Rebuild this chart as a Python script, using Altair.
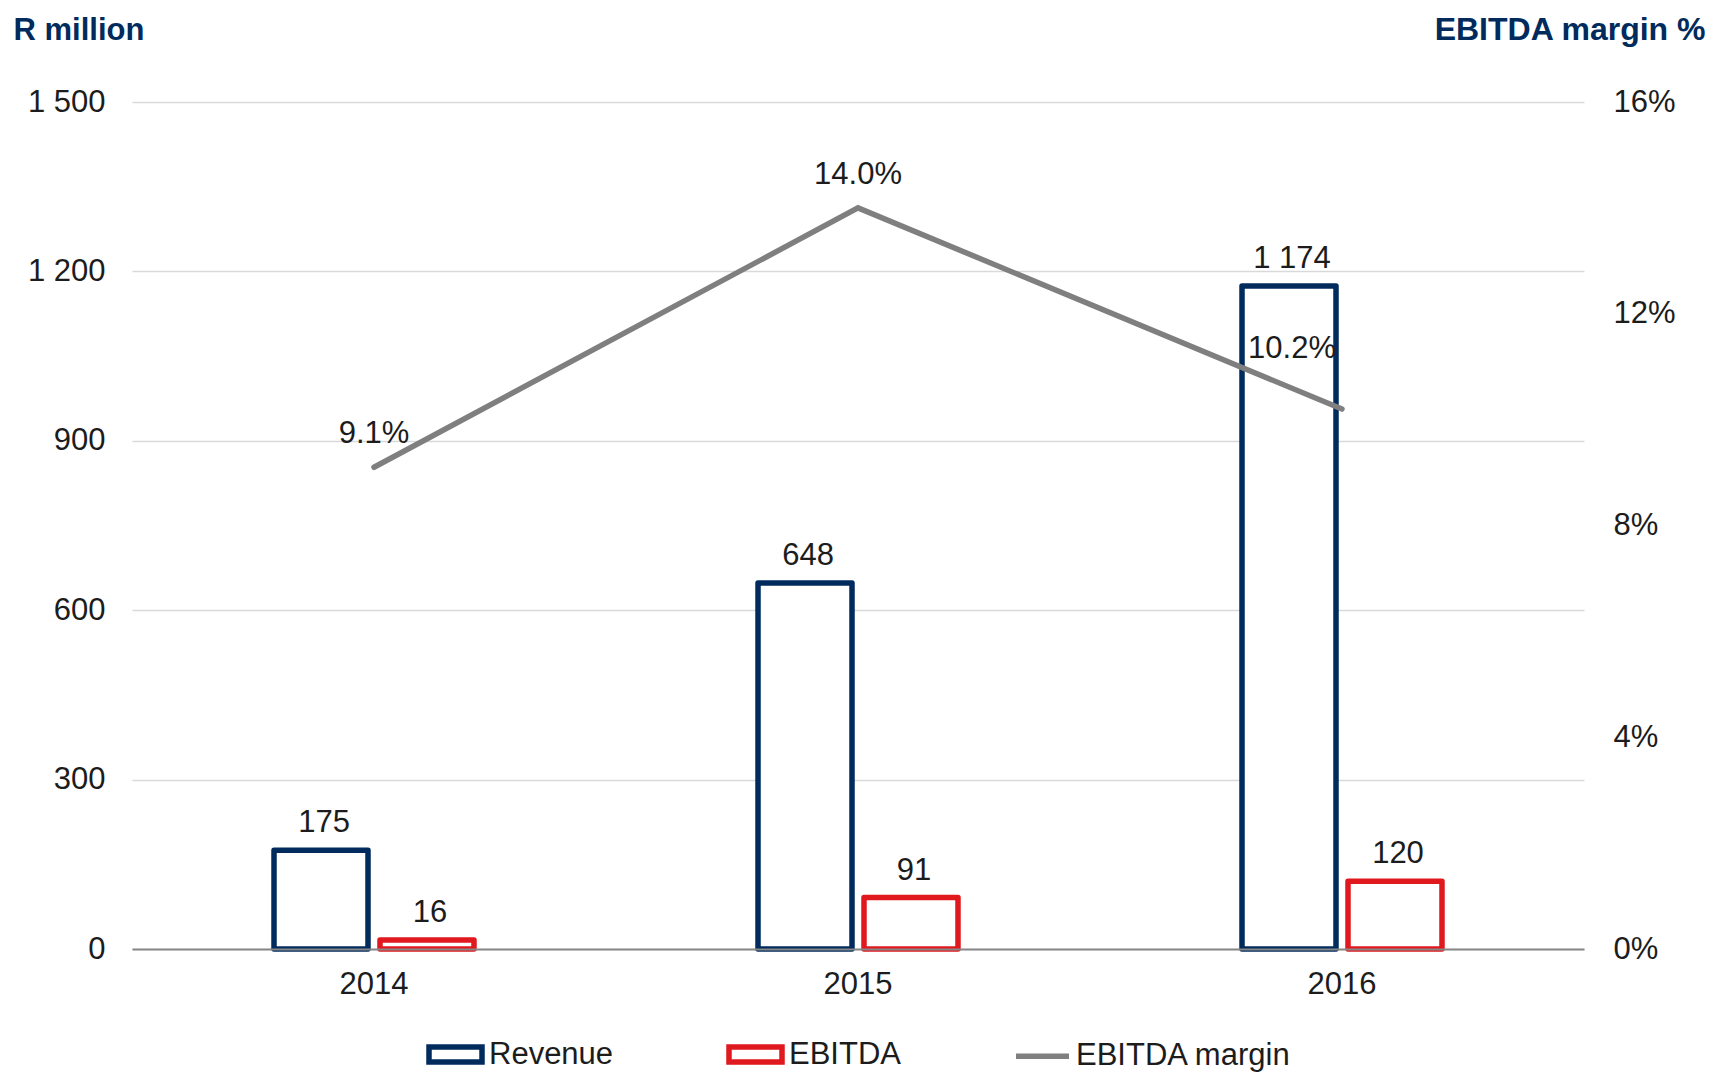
import altair as alt
import pandas as pd

# ---- data ----
years = ["2014", "2015", "2016"]
revenue = [175, 648, 1174]
ebitda = [16, 91, 120]
margin = [9.1, 14.0, 10.2]

series_names = ["Revenue", "EBITDA", "EBITDA margin"]
bar_series = ["Revenue", "EBITDA"]
series_colors = ["#002B5C", "#E0191E", "#7F7F7F"]
left_ticks = [0, 300, 600, 900, 1200, 1500]
right_ticks = [0, 4, 8, 12, 16]

# legend symbol shapes (unit-square SVG paths)
rect_path = "M-1,-0.283H1V0.283H-1Z"
line_path = "M-1,0H1"
series_shapes = [rect_path, rect_path, line_path]

bars_df = pd.DataFrame({
    "year": years * 2,
    "series": ["Revenue"] * 3 + ["EBITDA"] * 3,
    "value": revenue + ebitda,
})
margin_df = pd.DataFrame({
    "year": years,
    "series": ["EBITDA margin"] * 3,
    "margin": margin,
})

FONT = "Liberation Sans"
TEXT = "#1c1c1c"
NAVY = "#002B5C"

stroke_scale = alt.Scale(domain=series_names, range=series_colors)
shape_scale = alt.Scale(domain=series_names, range=series_shapes)

legend = alt.Legend(
    title=None, orient="none", legendX=294, legendY=923,
    direction="horizontal", padding=0,
    labelFont=FONT, labelFontSize=31, labelColor=TEXT, labelLimit=500,
    symbolSize=2809, symbolStrokeWidth=5.5, symbolOpacity=1,
    columnPadding=104, labelOffset=4,
)

x_axis = alt.Axis(
    title=None, labelAngle=0, labelFont=FONT, labelFontSize=31, labelColor=TEXT,
    labelPadding=20, ticks=False, domain=True, domainColor="#878787",
    domainWidth=2, grid=False, zindex=1,
)
x_scale = alt.Scale(paddingInner=0.5868, paddingOuter=0.2934)
X = alt.X("year:N", scale=x_scale, axis=x_axis, sort=years)

xoff = alt.XOffset("series:N", sort=bar_series,
                   scale=alt.Scale(domain=bar_series, paddingInner=0.1132, paddingOuter=0))

left_axis = alt.Axis(
    orient="left", values=left_ticks,
    labelExpr="replace(format(datum.value, ','), ',', ' ')",
    labelFont=FONT, labelFontSize=31, labelColor=TEXT, labelPadding=27,
    domain=False, ticks=False, grid=True, gridColor="#d9d9d9", gridWidth=1.5,
    title="R million", titleAngle=0, titleAlign="left", titleBaseline="alphabetic",
    titleX=-119, titleY=-63, titleFont=FONT, titleFontSize=31,
    titleFontWeight="bold", titleColor=NAVY,
)
right_axis = alt.Axis(
    orient="right", values=right_ticks, labelExpr="datum.value + '%'",
    labelFont=FONT, labelFontSize=31, labelColor=TEXT, labelPadding=29,
    domain=False, ticks=False, grid=False,
    title="EBITDA margin %", titleAngle=0, titleAlign="right", titleBaseline="alphabetic",
    titleX=121, titleY=-63, titleFont=FONT, titleFontSize=32,
    titleFontWeight="bold", titleColor=NAVY,
)

y_left = alt.Y("value:Q", scale=alt.Scale(domain=[0, 1500], nice=False), axis=left_axis)
y_right = alt.Y("margin:Q", scale=alt.Scale(domain=[0, 16], nice=False), axis=right_axis)

bars = alt.Chart(bars_df).mark_bar(fill="white", strokeWidth=5.5, strokeJoin="round").encode(
    x=X, xOffset=xoff, y=y_left,
    stroke=alt.Stroke("series:N", scale=stroke_scale, legend=legend),
)
bar_text = alt.Chart(bars_df).transform_calculate(
    label="replace(format(datum.value, ','), ',', ' ')"
).mark_text(font=FONT, fontSize=31, color=TEXT, baseline="alphabetic", dy=-18, dx=3).encode(
    x=X, xOffset=xoff, y=y_left, text="label:N",
)

line = alt.Chart(margin_df).mark_line(strokeWidth=5.5, strokeCap="round").encode(
    x=X, y=y_right,
    stroke=alt.Stroke("series:N", scale=stroke_scale, legend=legend),
)
pts = alt.Chart(margin_df).mark_point(size=0, filled=False, strokeWidth=5.5).encode(
    x=X, y=y_right,
    stroke=alt.Stroke("series:N", scale=stroke_scale, legend=legend),
    shape=alt.Shape("series:N", scale=shape_scale, legend=legend),
)
mtext = alt.Chart(margin_df).transform_calculate(
    label="format(datum.margin, '.1f') + '%'"
)
t1 = mtext.transform_filter("datum.year != '2016'").mark_text(
    font=FONT, fontSize=31, color=TEXT, baseline="alphabetic", dy=-24
).encode(x=X, y=y_right, text="label:N")
t2 = mtext.transform_filter("datum.year == '2016'").mark_text(
    font=FONT, fontSize=31, color=TEXT, baseline="alphabetic", dx=-50, dy=-51
).encode(x=X, y=y_right, text="label:N")

chart = alt.layer(
    alt.layer(bars, bar_text),
    alt.layer(line, pts, t1, t2),
).resolve_scale(y="independent").properties(
    width=1452, height=847,
    autosize=alt.AutoSizeParams(type="none"),
    padding={"left": 124, "top": 94, "right": 128, "bottom": 126},
).configure_view(stroke=None)

chart.save("out.html", embed_options={"renderer": "svg", "actions": False})
